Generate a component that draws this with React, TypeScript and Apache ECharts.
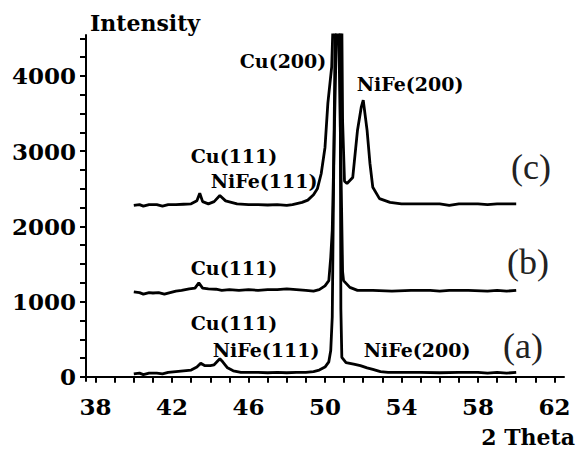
import React, { useEffect, useRef } from "react";
import * as echarts from "echarts";

// 2-theta positions and intensities
const thetaA = [40.0, 40.3, 40.5, 40.8, 41.2, 41.5, 41.8, 42.2, 42.6, 43.0, 43.3, 43.5, 43.7, 44.0, 44.2, 44.5, 44.65, 44.9, 45.2, 45.6, 46.0, 46.5, 47.0, 47.5, 48.0, 48.5, 49.0, 49.4, 49.7, 50.0, 50.2, 50.3, 50.38, 50.53, 50.6, 50.72, 50.79, 50.83, 50.88, 51.1, 51.5, 51.85, 52.2, 52.5, 52.9, 53.3, 54.0, 55.0, 56.0, 57.0, 58.0, 58.5, 59.0, 59.5, 60.0];
const intensityA = [40, 50, 30, 50, 50, 40, 60, 70, 80, 90, 130, 180, 150, 150, 160, 240, 200, 120, 80, 60, 60, 60, 55, 60, 55, 60, 60, 70, 90, 130, 200, 350, 800, 4600, 9000, 9000, 4600, 900, 260, 190, 170, 150, 120, 100, 70, 60, 60, 60, 55, 60, 60, 50, 60, 50, 60];

const thetaB = [40.0, 40.3, 40.5, 40.8, 41.0, 41.3, 41.6, 41.9, 42.2, 42.5, 42.9, 43.2, 43.4, 43.6, 43.9, 44.3, 44.6, 45.0, 45.5, 46.0, 46.5, 47.0, 47.5, 48.0, 48.5, 49.0, 49.4, 49.7, 50.0, 50.2, 50.3, 50.38, 50.6, 50.65, 50.68, 50.72, 50.92, 50.97, 51.3, 51.7, 52.5, 53.5, 54.5, 55.5, 56.0, 56.5, 57.5, 58.5, 59.0, 59.5, 60.0];
const intensityB = [1130, 1120, 1100, 1120, 1115, 1120, 1100, 1120, 1140, 1150, 1170, 1180, 1250, 1180, 1170, 1165, 1150, 1160, 1150, 1160, 1150, 1160, 1160, 1170, 1160, 1150, 1140, 1160, 1210, 1280, 1590, 1950, 4600, 9000, 9000, 4600, 1400, 1280, 1190, 1150, 1150, 1140, 1150, 1150, 1140, 1150, 1150, 1140, 1150, 1140, 1150];

const thetaC = [40.0, 40.3, 40.5, 40.8, 41.2, 41.5, 41.8, 42.2, 42.6, 43.0, 43.3, 43.45, 43.6, 43.9, 44.2, 44.5, 44.8, 45.1, 45.4, 46.0, 46.5, 47.0, 47.5, 48.0, 48.3, 48.8, 49.1, 49.4, 49.6, 49.8, 50.0, 50.15, 50.35, 50.42, 50.5, 50.8, 50.88, 50.92, 51.02, 51.15, 51.45, 51.7, 51.9, 52.0, 52.2, 52.35, 52.5, 52.85, 53.4, 54.0, 55.0, 56.0, 56.5, 57.0, 58.0, 58.5, 59.0, 60.0];
const intensityC = [2280, 2290, 2270, 2290, 2290, 2270, 2290, 2290, 2295, 2300, 2340, 2440, 2330, 2300, 2330, 2410, 2340, 2320, 2300, 2290, 2290, 2285, 2290, 2280, 2290, 2320, 2350, 2420, 2500, 2700, 3050, 3640, 4120, 4700, 9000, 9000, 4700, 3400, 2600, 2570, 2650, 3280, 3590, 3680, 3280, 2840, 2520, 2370, 2320, 2300, 2300, 2300, 2280, 2300, 2300, 2290, 2300, 2300];

const xTicks = [38, 39, 40, 41, 42, 43, 44, 45, 46, 47, 48, 49, 50, 51, 52, 53, 54, 55, 56, 57, 58, 59, 60, 61, 62];
const xLabels = [38, 42, 46, 50, 54, 58, 62];
const yTicks = [0, 250, 500, 750, 1000, 1250, 1500, 1750, 2000, 2250, 2500, 2750, 3000, 3250, 3500, 3750, 4000, 4250, 4500];
const yLabels = [0, 1000, 2000, 3000, 4000];

const annotations = [
  { text: "Cu(200)", x: 283, y: 61 },
  { text: "NiFe(200)", x: 410, y: 84 },
  { text: "Cu(111)", x: 234, y: 156 },
  { text: "NiFe(111)", x: 264, y: 181 },
  { text: "Cu(111)", x: 234, y: 268 },
  { text: "Cu(111)", x: 234, y: 323 },
  { text: "NiFe(111)", x: 266, y: 350 },
  { text: "NiFe(200)", x: 417, y: 350 },
];
const sampleTags = [
  { text: "(c)", x: 531, y: 167 },
  { text: "(b)", x: 528, y: 262 },
  { text: "(a)", x: 523, y: 346 },
];

const FONT = "'DejaVu Serif', serif";

function pairs(xs: number[], ys: number[]) {
  return xs.map((x, i) => [x, ys[i]]);
}

export default function App() {
  const ref = useRef<HTMLDivElement>(null);
  useEffect(() => {
    document.body.style.margin = "0";
    if (!ref.current) return;
    const chart = echarts.init(ref.current, null, { renderer: "svg" });
    const lineSeries = (name: string, data: number[][]) => ({
      name,
      type: "line",
      data,
      showSymbol: false,
      symbol: "none",
      clip: true,
      lineStyle: { color: "#000", width: 2.8 },
    });
    const textEl = (t: { text: string; x: number; y: number }, size: number, weight: string, family: string, color: string) => ({
      type: "text",
      x: t.x,
      y: t.y,
      style: {
        text: t.text,
        fill: color,
        font: `${weight} ${size}px ${family}`,
        textAlign: "center",
        textVerticalAlign: "middle",
        align: "center",
        verticalAlign: "middle",
      },
    });
    chart.setOption({
      animation: false,
      backgroundColor: "#fff",
      grid: { left: 86, right: 15, top: 35, bottom: 68, containLabel: false },
      xAxis: {
        type: "value",
        min: 37.5,
        max: 62.5,
        splitLine: { show: false },
        axisLine: { show: true, lineStyle: { color: "#000", width: 2 } },
        axisTick: { show: true, customValues: xTicks, length: 6, lineStyle: { color: "#000", width: 2 } },
        axisLabel: { customValues: xLabels, color: "#000", fontSize: 23, fontWeight: "bold", fontFamily: FONT, margin: 14, formatter: (v: number) => String(v) },
      },
      yAxis: {
        type: "value",
        min: -55,
        max: 4545,
        splitLine: { show: false },
        axisLine: { show: true, lineStyle: { color: "#000", width: 2 } },
        axisTick: { show: true, customValues: yTicks, length: 6, lineStyle: { color: "#000", width: 2 } },
        axisLabel: { customValues: yLabels, color: "#000", fontSize: 23, fontWeight: "bold", fontFamily: FONT, margin: 10, formatter: (v: number) => String(v) },
      },
      series: [
        lineSeries("(a)", pairs(thetaA, intensityA)),
        lineSeries("(b)", pairs(thetaB, intensityB)),
        lineSeries("(c)", pairs(thetaC, intensityC)),
      ],
      graphic: [
        {
          type: "text",
          x: 90,
          y: 23,
          style: { text: "Intensity", fill: "#000", font: `bold 22px ${FONT}`, textAlign: "left", textVerticalAlign: "middle", align: "left", verticalAlign: "middle" },
        },
        {
          type: "text",
          x: 575,
          y: 437,
          style: { text: "2 Theta", fill: "#000", font: `bold 22px ${FONT}`, textAlign: "right", textVerticalAlign: "middle", align: "right", verticalAlign: "middle" },
        },
        ...annotations.map((a) => textEl(a, 19, "bold", FONT, "#000")),
        ...sampleTags.map((a) => textEl(a, 36, "normal", "'Liberation Serif', serif", "#222")),
      ],
    });
    return () => chart.dispose();
  }, []);
  return <div ref={ref} style={{ width: 579, height: 449 }} />;
}
